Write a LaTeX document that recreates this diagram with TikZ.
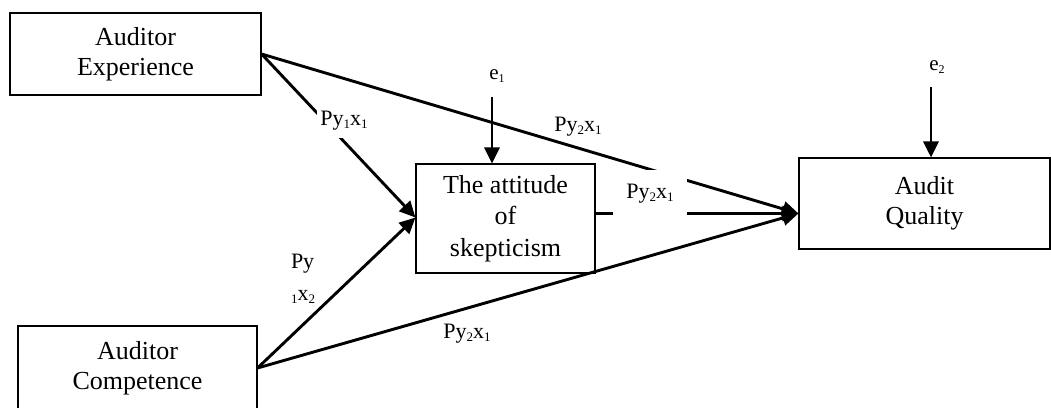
\documentclass[tikz,border=0pt]{standalone}
\usepackage{fontspec}
\setmainfont{Liberation Serif}
\usetikzlibrary{arrows.meta,calc}
\newcommand{\sbx}[1]{\raisebox{-0.3ex}{\fontsize{13}{13}\selectfont #1}}
\newcommand{\sbe}[1]{\raisebox{-0.25ex}{\fontsize{12}{12}\selectfont #1}}
\tikzset{
  var/.style={draw, line width=1.1pt, align=center, font=\fontsize{26}{30}\selectfont, inner sep=0pt},
  conn/.style={line width=2.9pt, -{Triangle[length=16pt,width=15pt]}},
  lbl/.style={font=\fontsize{22}{34}\selectfont, inner sep=0pt, align=center},
  lblw/.style={lbl, fill=white},
  errl/.style={font=\fontsize{21}{21}\selectfont, inner sep=0pt}
}
\begin{document}
\begin{tikzpicture}[x=1pt,y=-1pt]
\useasboundingbox (0,0) rectangle (1051,407);
% boxes
\node[var, minimum width=251pt, minimum height=82pt] (AE) at (135.5,54) {Auditor\\Experience};
\node[var, minimum width=239pt, minimum height=84pt] (AC) at (137.5,368) {Auditor\\Competence};
\node[var, minimum width=179pt, minimum height=109pt, font=\fontsize{26}{31.5}\selectfont] (MS) at (505.5,218.5) {The attitude\\of\\skepticism};
\node[var, minimum width=251pt, minimum height=91pt] (AQ) at (924.5,203.5) {Audit\\Quality};
% anchor points
\coordinate (aqin) at ($(AQ.west)+(0,10)$);
\coordinate (msin) at ($(MS.west)+(0,-1)$);
\coordinate (e1top) at (492,97);
\coordinate (e2top) at (931,87);
% connectors
\draw[conn] (AE.east) -- (msin);
\draw[conn] (AE.east) -- (aqin);
\draw[conn] (AC.east) -- (msin);
\draw[conn] (AC.east) -- (aqin);
\draw[conn] (MS.east |- aqin) -- (aqin);
\draw[conn] (e1top) -- (e1top |- MS.north);
\draw[conn] (e2top) -- (e2top |- AQ.north);
% error labels
\node[errl] (e1) at (497,76) {e\sbe{1}};
\node[errl] (e2) at (937,67) {e\sbe{2}};
% path labels
\node[lblw, minimum height=34pt, inner xsep=3pt] (p11) at (344,121) {Py\sbx{1}x\sbx{1}};
\node[lbl] (p21a) at (578,127) {Py\sbx{2}x\sbx{1}};
\node[lblw, minimum width=74pt, minimum height=47pt] (p21b) at (650,193.5) {Py\sbx{2}x\sbx{1}};
\node[lbl, align=left] (p12) at (303,279) {Py\\[-2pt]\sbx{1}x\sbx{2}};
\node[lbl] (p21c) at (467,334) {Py\sbx{2}x\sbx{1}};
\end{tikzpicture}
\end{document}
